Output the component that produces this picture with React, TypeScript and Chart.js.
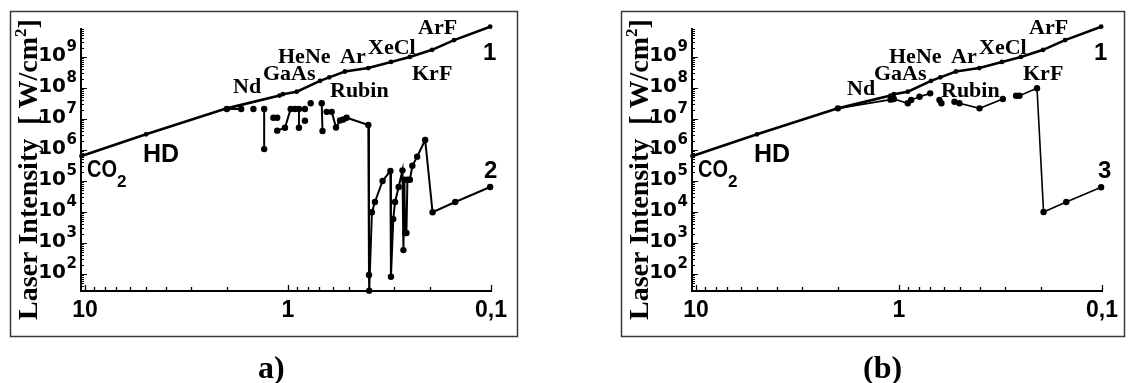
import React, { useEffect, useRef } from "react";
import { Chart, registerables } from "chart.js";

Chart.register(...registerables);

// ---------- data (wavelength in µm, intensity in W/cm²) ----------
// curve 1 (both panels)
const lambda1 = [10.4, 5.0, 2.0, 1.10, 1.06, 0.905, 0.695, 0.626, 0.524, 0.402, 0.311, 0.251, 0.195, 0.152, 0.101];
const intensity1 = [6.4e5, 3.2e6, 2.2e7, 5.7e7, 6.3e7, 7.6e7, 1.7e8, 2.2e8, 3.4e8, 4.4e8, 6.9e8, 1.0e9, 1.7e9, 3.5e9, 9.5e9];

// curve 2 (panel a), null = break in the line
const lambda2 = [
  2.0, 1.70, null, 1.48, null, 1.31, 1.31, null, 1.18, 1.13, null,
  1.13, 1.035, 0.97, 0.924, 0.883, 0.883, null, 0.825, null, 0.825, null, 0.773, null,
  0.682, 0.676, null, 0.645, 0.609, 0.580, 0.554, 0.534, 0.514, 0.402, 0.399, 0.398,
  0.386, 0.373, 0.342, 0.313, 0.311, 0.303, 0.297, 0.285, 0.273, 0.270, 0.267, 0.265,
  0.261, 0.258, 0.251, 0.244, 0.231, 0.211, 0.194, 0.150, 0.101,
];
const intensity2 = [
  2.1e7, 2.1e7, null, 2.1e7, null, 2.1e7, 1.07e6, null, 1.1e7, 1.1e7, null,
  4.2e6, 5.2e6, 2.1e7, 2.1e7, 2.1e7, 5.2e6, null, 8.8e6, null, 2.1e7, null, 3.2e7, null,
  3.2e7, 4.1e6, null, 1.7e7, 1.7e7, 5.3e6, 9.0e6, 9.6e6, 1.1e7, 6.4e6, 93, 29,
  9.8e3, 2.1e4, 1.0e5, 2.1e5, 82, 5.9e3, 2.1e4, 6.4e4, 2.2e5, 590, 1.1e5, 2.1e3,
  2.1e3, 1.1e5, 1.1e5, 3.1e5, 6.1e5, 2.1e6, 9.8e3, 2.1e4, 6.4e4,
];

// curve 3 (panel b)
const lambda3 = [
  2.0, 1.10, 1.08, 1.06, 0.905, 0.871, 0.792, 0.702, null, 0.632, 0.618, null,
  0.533, 0.504, 0.401, 0.308, null, 0.265, 0.255, 0.209, 0.194, 0.150, 0.101,
];
const intensity3 = [
  2.2e7, 4.2e7, 4.7e7, 4.4e7, 3.2e7, 4.1e7, 5.2e7, 6.7e7, null, 4.1e7, 3.2e7, null,
  3.6e7, 3.2e7, 2.2e7, 4.4e7, null, 5.6e7, 5.6e7, 9.8e7, 1.0e4, 2.1e4, 6.3e4,
];

const xTickValues = [10, 1, 0.1];
const xTickLabels = ["10", "1", "0,1"];
const yTickExponents = [2, 3, 4, 5, 6, 7, 8, 9];

const X_MIN = 0.1;
const X_MAX = 10.46;
const Y_MIN = 28.3;
const Y_MAX = 8.6e9;

// ---------- layout (canvas-local pixels) ----------
const H = 383;
const AREA = { left: 81, right: 491, top: 28, bottom: 291 };

const SERIF = '"Liberation Serif", "Times New Roman", serif';
const SANS = '"Liberation Sans", Arial, sans-serif';
const DEJAVU = '"DejaVu Sans", sans-serif';

type Annot = { text: string; x: number; y: number; font: string; sx?: number };

const serifLabels = (ndx: number, ndy: number): Annot[] => [
  { text: "Nd", x: ndx, y: ndy, font: `bold 22px ${SERIF}` },
  { text: "GaAs", x: 263, y: 80, font: `bold 22px ${SERIF}` },
  { text: "HeNe", x: 278, y: 63, font: `bold 22px ${SERIF}` },
  { text: "Ar", x: 340, y: 63, font: `bold 22px ${SERIF}` },
  { text: "XeCl", x: 368, y: 54, font: `bold 22px ${SERIF}` },
  { text: "ArF", x: 418, y: 34, font: `bold 22px ${SERIF}` },
  { text: "KrF", x: 412, y: 80, font: `bold 22px ${SERIF}` },
  { text: "Rubin", x: 330, y: 97, font: `bold 22px ${SERIF}` },
  { text: "HD", x: 143, y: 162, font: `bold 25px ${SANS}` },
  { text: "1", x: 483, y: 60, font: `bold 24px ${SANS}` },
];

function toPoints(xs: (number | null)[], ys: (number | null)[]) {
  let last = xs.find((v) => v != null) as number;
  return xs.map((x, i) => {
    const y = ys[i];
    if (x == null || y == null) return { x: last, y: null as any };
    last = x;
    return { x, y };
  });
}

type PanelProps = {
  left: number;
  width: number;
  frameRight: number;
  curveLambda: (number | null)[];
  curveIntensity: (number | null)[];
  curveWidth: number;
  curveLabel: string;
  curveLabelX: number;
  annots: Annot[];
  panelLabel: string;
  panelLabelX: number;
};

function Panel(p: PanelProps) {
  const ref = useRef<HTMLCanvasElement | null>(null);

  useEffect(() => {
    const canvas = ref.current!;
    const decor = {
      id: "decor",
      beforeDatasetsDraw(chart: any) {
        const ctx: CanvasRenderingContext2D = chart.ctx;
        const xs = chart.scales.x;
        const ys = chart.scales.y;
        const a = chart.chartArea;
        ctx.save();
        // outer frame
        ctx.strokeStyle = "#3a3a3a";
        ctx.lineWidth = 1.5;
        ctx.strokeRect(10.5, 11.5, p.frameRight - 10, 336 - 11);

        // axis lines
        ctx.strokeStyle = "#000";
        ctx.lineWidth = 2;
        ctx.beginPath();
        ctx.moveTo(a.left, a.top);
        ctx.lineTo(a.left, a.bottom);
        ctx.lineTo(a.right + 1, a.bottom);
        ctx.stroke();

        // y ticks (inside)
        ctx.lineWidth = 1;
        ctx.beginPath();
        for (let k = 1; k <= 9; k++) {
          for (let m = 1; m <= 9; m++) {
            const v = m * Math.pow(10, k);
            if (v < ys.min || v > ys.max) continue;
            const y = Math.round(ys.getPixelForValue(v)) + 0.5;
            const len = m === 1 ? 6 : 3;
            ctx.moveTo(a.left, y);
            ctx.lineTo(a.left + len, y);
          }
        }
        ctx.stroke();

        // x ticks (inside)
        ctx.lineWidth = 1.3;
        ctx.beginPath();
        for (let k = -1; k <= 1; k++) {
          for (let m = 1; m <= 9; m++) {
            const v = m * Math.pow(10, k);
            if (v < xs.min - 1e-9 || v > xs.max) continue;
            const x = Math.round(xs.getPixelForValue(v)) + 0.5;
            const len = m === 1 ? 6 : 4;
            ctx.moveTo(x, a.bottom);
            ctx.lineTo(x, a.bottom - len);
          }
        }
        ctx.stroke();

        ctx.fillStyle = "#000";
        // x tick labels
        ctx.font = `bold 23px ${SANS}`;
        ctx.textAlign = "center";
        ctx.textBaseline = "alphabetic";
        xTickValues.forEach((v, i) => {
          ctx.fillText(xTickLabels[i], xs.getPixelForValue(v), 317);
        });

        // y tick labels 10^n
        yTickExponents.forEach((e) => {
          const y = ys.getPixelForValue(Math.pow(10, e));
          ctx.textAlign = "right";
          ctx.font = `bold 20px ${DEJAVU}`;
          ctx.fillText("10", 66, y + 4);
          ctx.textAlign = "left";
          ctx.font = `bold 15px ${DEJAVU}`;
          ctx.fillText(String(e), 66.5, y - 6);
        });

        // y title (rotated)
        ctx.save();
        ctx.translate(37, 320);
        ctx.rotate(-Math.PI / 2);
        ctx.textAlign = "left";
        ctx.font = `bold 28px ${SERIF}`;
        const t1 = "Laser Intensity  [ W/cm";
        ctx.fillText(t1, 0, 0);
        let tx = ctx.measureText(t1).width;
        ctx.font = `bold 17px ${SERIF}`;
        ctx.fillText("2", tx, -11);
        tx += ctx.measureText("2").width;
        ctx.font = `bold 28px ${SERIF}`;
        ctx.fillText("]", tx, 0);
        ctx.restore();

        // CO2 label
        ctx.save();
        ctx.textAlign = "left";
        ctx.translate(87, 177);
        ctx.scale(0.87, 1);
        ctx.font = `bold 23px ${SANS}`;
        ctx.fillText("CO", 0, 0);
        ctx.restore();
        ctx.font = `bold 17px ${SANS}`;
        ctx.textAlign = "left";
        ctx.fillText("2", 117, 187);

        // other annotations
        p.annots.forEach((an) => {
          ctx.font = an.font;
          ctx.textAlign = "left";
          ctx.fillText(an.text, an.x, an.y);
        });
        ctx.font = `bold 24px ${SANS}`;
        ctx.fillText(p.curveLabel, p.curveLabelX, 178);

        // panel label
        ctx.font = `bold 32px ${SERIF}`;
        ctx.fillText(p.panelLabel, p.panelLabelX, 378);
        ctx.restore();
      },
    };

    const chart = new Chart(canvas, {
      type: "line",
      data: {
        datasets: [
          {
            data: toPoints(lambda1, intensity1) as any,
            borderColor: "#000",
            backgroundColor: "#000",
            pointBackgroundColor: "#000",
            pointBorderColor: "#000",
            borderWidth: 2.6,
            pointRadius: 2.4,
            pointBorderWidth: 0,
            tension: 0,
            spanGaps: false,
            clip: false as any,
          },
          {
            data: toPoints(p.curveLambda, p.curveIntensity) as any,
            borderColor: "#000",
            backgroundColor: "#000",
            pointBackgroundColor: "#000",
            pointBorderColor: "#000",
            borderWidth: p.curveWidth,
            pointRadius: 3.2,
            pointBorderWidth: 0,
            tension: 0,
            spanGaps: false,
            clip: false as any,
          },
        ],
      },
      options: {
        animation: false,
        responsive: false,
        maintainAspectRatio: false,
        devicePixelRatio: 1,
        events: [],
        layout: { padding: { left: 0, top: AREA.top, right: p.width - AREA.right, bottom: 0 } },
        plugins: { legend: { display: false }, tooltip: { enabled: false }, title: { display: false } },
        scales: {
          x: {
            type: "logarithmic",
            reverse: true,
            min: X_MIN,
            max: X_MAX,
            ticks: { display: false },
            grid: { display: false },
            border: { display: false },
            afterFit: (s: any) => {
              s.height = H - AREA.bottom;
            },
          },
          y: {
            type: "logarithmic",
            min: Y_MIN,
            max: Y_MAX,
            ticks: { display: false },
            grid: { display: false },
            border: { display: false },
            afterFit: (s: any) => {
              s.width = AREA.left;
            },
          },
        },
      } as any,
      plugins: [decor],
    });
    return () => chart.destroy();
  }, []);

  return (
    <canvas
      ref={ref}
      width={p.width}
      height={H}
      style={{ position: "absolute", left: p.left, top: 0, width: p.width, height: H }}
    />
  );
}

export default function App() {
  return (
    <div style={{ position: "absolute", left: 0, top: 0, width: 1130, height: 383, background: "#fff" }}>
      <Panel
        left={0}
        width={565}
        frameRight={517}
        curveLambda={lambda2}
        curveIntensity={intensity2}
        curveWidth={2}
        curveLabel="2"
        curveLabelX={484}
        annots={serifLabels(233, 93)}
        panelLabel="a)"
        panelLabelX={258}
      />
      <Panel
        left={611}
        width={519}
        frameRight={513}
        curveLambda={lambda3}
        curveIntensity={intensity3}
        curveWidth={1.6}
        curveLabel="3"
        curveLabelX={487}
        annots={serifLabels(236, 95)}
        panelLabel="(b)"
        panelLabelX={252}
      />
    </div>
  );
}
